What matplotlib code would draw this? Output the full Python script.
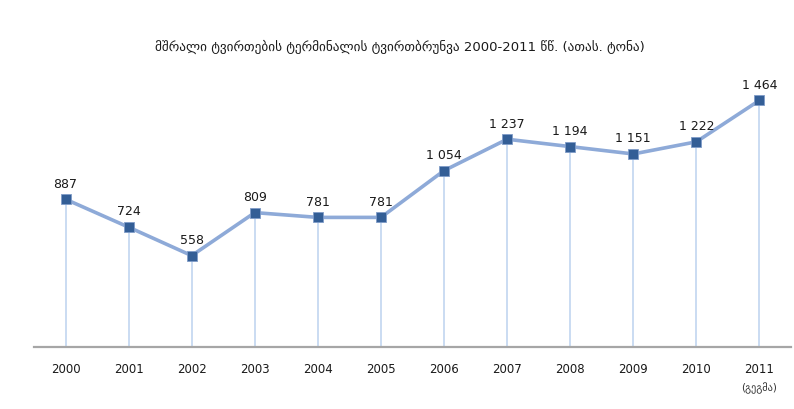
import matplotlib.pyplot as plt

# data
years = ['2000', '2001', '2002', '2003', '2004', '2005',
         '2006', '2007', '2008', '2009', '2010', '2011']
values = [887, 724, 558, 809, 781, 781, 1054, 1237, 1194, 1151, 1222, 1464]
title = 'მშრალი ტვირთების ტერმინალის ტვირთბრუნვა 2000-2011 წწ. (ათას. ტონა)'
plan_note = '(გეგმა)'

fig = plt.figure(figsize=(7.94, 4.10), dpi=100)
ax = fig.add_axes([34 / 794, 62 / 410, 757 / 794, 270 / 410])

x = list(range(len(years)))
ymin = 25

# drop lines from each point to the axis
ax.vlines(x, ymin, values, color='#c6d9f1', lw=1.3, zorder=1)

# main line with square markers
ax.plot(x, values, color='#8eaad8', lw=2.6, zorder=2,
        marker='s', markersize=7.5, markerfacecolor='#335e96',
        markeredgecolor='#7f9cc8', markeredgewidth=0.6)

# value labels
for xi, v in zip(x, values):
    label = f'{v:,}'.replace(',', ' ')
    ax.annotate(label, (xi, v), xytext=(0, 7), textcoords='offset points',
                ha='center', va='bottom', fontsize=9, color='#1a1a1a')

ax.set_xlim(-0.5, len(years) - 0.5)
ax.set_ylim(ymin, 1600)
ax.set_xticks(x)
ax.set_xticklabels(years, fontsize=8.5, color='#1a1a1a')
ax.tick_params(axis='x', length=0, pad=11)
ax.set_yticks([])

for side in ['top', 'right', 'left']:
    ax.spines[side].set_visible(False)
ax.spines['bottom'].set_color('#a6a6a6')
ax.spines['bottom'].set_linewidth(1.6)

# note under the last year
ax.annotate(plan_note, (x[-1], ymin), xytext=(0, -29), textcoords='offset points',
            ha='center', va='center', fontsize=7.5, color='#333333')

fig.text(400 / 794, 1 - 47 / 410, title, ha='center', va='center',
         fontsize=9.5, color='#1a1a1a')

fig.savefig('out.png', dpi=100)
